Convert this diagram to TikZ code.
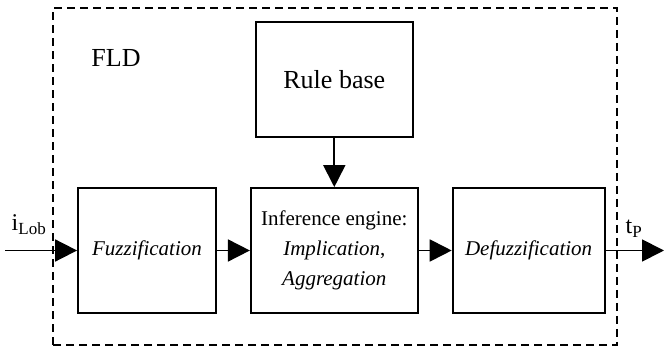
\documentclass[tikz,border=0pt]{standalone}
\usepackage{fontspec}
\setmainfont{Liberation Serif}
\usepackage{tikz}
\usetikzlibrary{arrows.meta, positioning}
\tikzstyle{blockbox} = [rectangle, draw=black, line width=1.8pt,
minimum width=138pt, minimum height=125pt, inner sep=2pt,
align=center, font=\fontsize{21}{30}\selectfont]
\tikzstyle{rulebox} = [blockbox, minimum width=157pt, minimum height=115pt,
font=\fontsize{26}{30}\selectfont]
\tikzstyle{arrow} = [-{Triangle[length=22pt, width=22pt]}, line width=1.8pt]
\tikzstyle{frame} = [dash pattern=on 8pt off 5pt, line width=1.8pt]

\begin{document}
\begin{tikzpicture}[x=1pt, y=1pt, node distance=33pt]
    \useasboundingbox (0,0) rectangle (664,347);
    \draw[frame] (53,2) rectangle (617,339);
    \node (fld) at (116,289) [font=\fontsize{26}{30}\selectfont] {FLD};

    \node (fuzz)   [blockbox] at (147,96.5) {\textit{Fuzzification}};
    \node (infer)  [blockbox, minimum width=167pt, right=of fuzz]
        {Inference engine:\\\textit{Implication},\\\textit{Aggregation}};
    \node (defuzz) [blockbox, minimum width=152pt, right=of infer] {\textit{Defuzzification}};
    \node (rule)   [rulebox, above=49pt of infer] {Rule base};

    \coordinate (in)  at (5,96.5);
    \coordinate (out) at (664,96.5);
    \node (ilob) at (29,122) [font=\fontsize{24}{28}\selectfont]
        {i\textsubscript{\fontsize{17}{20}\selectfont Lob}};
    \node (tp)   at (634,118) [font=\fontsize{24}{28}\selectfont]
        {t\textsubscript{\fontsize{17}{20}\selectfont P}};

    \draw[arrow] (in) -- (fuzz);
    \draw[arrow] (fuzz) -- (infer);
    \draw[arrow] (infer) -- (defuzz);
    \draw[arrow] (defuzz) -- (out);
    \draw[arrow] (rule) -- (infer);
\end{tikzpicture}
\end{document}
